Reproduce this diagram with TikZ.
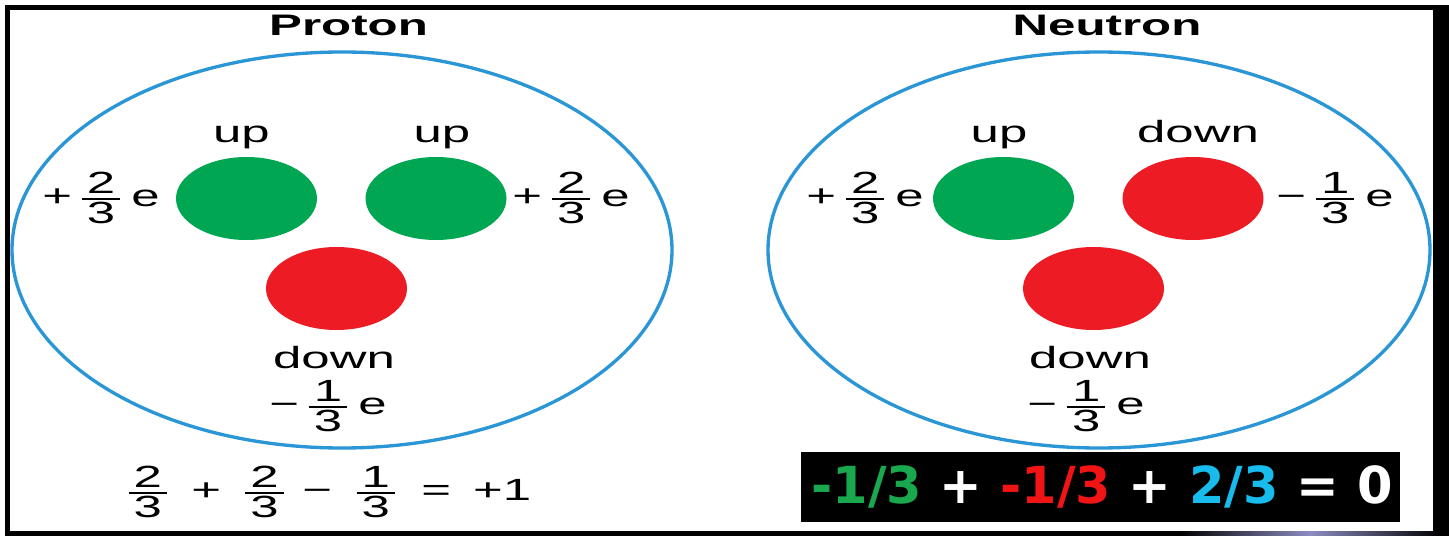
\documentclass[tikz,border=0pt]{standalone}
\usepackage{fontspec}
\usepackage{amsmath}
\usepackage{graphicx}
\setmainfont{Liberation Sans}
\newfontfamily\dejavu{DejaVu Sans}
\usetikzlibrary{shapes.geometric}
\definecolor{shellblue}{RGB}{43,150,214}
\definecolor{qgreen}{RGB}{0,166,81}
\definecolor{qred}{RGB}{237,28,36}
\definecolor{eqgreen}{RGB}{26,168,78}
\definecolor{eqred}{RGB}{240,20,20}
\definecolor{eqcyan}{RGB}{24,188,236}
\definecolor{glow}{RGB}{140,140,195}
\newcommand\hstretch[1]{\scalebox{1.66}[1]{#1}}
\newcommand\qfr[2]{{\nulldelimiterspace=0pt$\genfrac{}{}{0.6pt}{1}{\hbox{\kern0.9pt #1\kern0.9pt}}{\hbox{\kern0.9pt #2\kern0.9pt}}$}}
\newcommand\chg[3]{#1\kern1.8pt\qfr{#2}{#3}\kern2pt e}
\begin{document}
\begin{tikzpicture}[x=0.3pt,y=-0.3pt,
  quark/.style={ellipse, minimum width=42.3pt, minimum height=24.9pt, inner sep=0pt},
  shell/.style={draw=shellblue, line width=1pt},
  lab/.style={font=\fontsize{9.2}{10}\selectfont, inner sep=0pt},
  ttl/.style={font=\fontsize{8.9}{10}\selectfont\bfseries, inner sep=0pt, anchor=base},
  sumtxt/.style={font=\fontsize{15.3}{17}\selectfont\dejavu\bfseries, inner sep=0pt, anchor=base}]
\useasboundingbox (0,0) rectangle (1449,536);
% frame
\fill[white] (0,0) rectangle (1449,536);
\fill[black] (5,5) rectangle (1449,536);
\fill[white] (10,10) rectangle (1433,531);
\shade[left color=black, right color=black, middle color=glow] (1180,531) rectangle (1440,536);
% titles
\node[ttl] (ptitle) at (348.5,36) {\hstretch{Proton}};
\node[ttl] (ntitle) at (1107,36) {\hstretch{Neutron}};
% shells
\node[shell, ellipse, minimum width=198pt, minimum height=118.8pt, inner sep=0pt] (pshell) at (342,250) {};
\node[shell, ellipse, minimum width=198.6pt, minimum height=118.8pt, inner sep=0pt] (nshell) at (1099,250) {};
% proton quarks
\node[quark, fill=qgreen] (pu1) at (246.5,198.5) {};
\node[quark, fill=qgreen] (pu2) at (436,198.5) {};
\node[quark, fill=qred] (pd) at (336.5,288.5) {};
% neutron quarks
\node[quark, fill=qgreen] (nu) at (1003.5,198.5) {};
\node[quark, fill=qred] (nd1) at (1193,198.5) {};
\node[quark, fill=qred] (nd2) at (1093.5,288.5) {};
% proton labels
\node[lab, anchor=base] (pu1name) at (241.5,143) {\hstretch{up}};
\node[lab, anchor=base] (pu2name) at (442,143) {\hstretch{up}};
\node[lab] (pu1chg) at (101,198) {\hstretch{\chg{+}{2}{3}}};
\node[lab] (pu2chg) at (571,198) {\hstretch{\chg{+}{2}{3}}};
\node[lab, anchor=base] (pdname) at (334,368) {\hstretch{down}};
\node[lab] (pdchg) at (328,406) {\hstretch{\chg{−}{1}{3}}};
% neutron labels
\node[lab, anchor=base] (nuname) at (999,143) {\hstretch{up}};
\node[lab, anchor=base] (nd1name) at (1198,143) {\hstretch{down}};
\node[lab] (nuchg) at (865,198) {\hstretch{\chg{+}{2}{3}}};
\node[lab] (nd1chg) at (1335,198) {\hstretch{\chg{−}{1}{3}}};
\node[lab, anchor=base] (nd2name) at (1090,368) {\hstretch{down}};
\node[lab] (nd2chg) at (1086,406) {\hstretch{\chg{−}{1}{3}}};
% proton sum
\node[lab] (psum) at (330,492) {\hstretch{\qfr{2}{3}\hspace{4.4pt}+\hspace{4.4pt}\qfr{2}{3}\hspace{3.4pt}−\hspace{4.4pt}\qfr{1}{3}\hspace{4.8pt}=\hspace{4pt}+1}};
% neutron sum box
\node[fill=black, minimum width=179.7pt, minimum height=21pt, inner sep=0pt] (nbox) at (1100.5,487) {};
\node[sumtxt] (nsum) at (1102,503) {\textcolor{eqgreen}{-1/3} \textcolor{white}{+} \textcolor{eqred}{-1/3} \textcolor{white}{+} \textcolor{eqcyan}{2/3} \textcolor{white}{= 0}};
\end{tikzpicture}
\end{document}
